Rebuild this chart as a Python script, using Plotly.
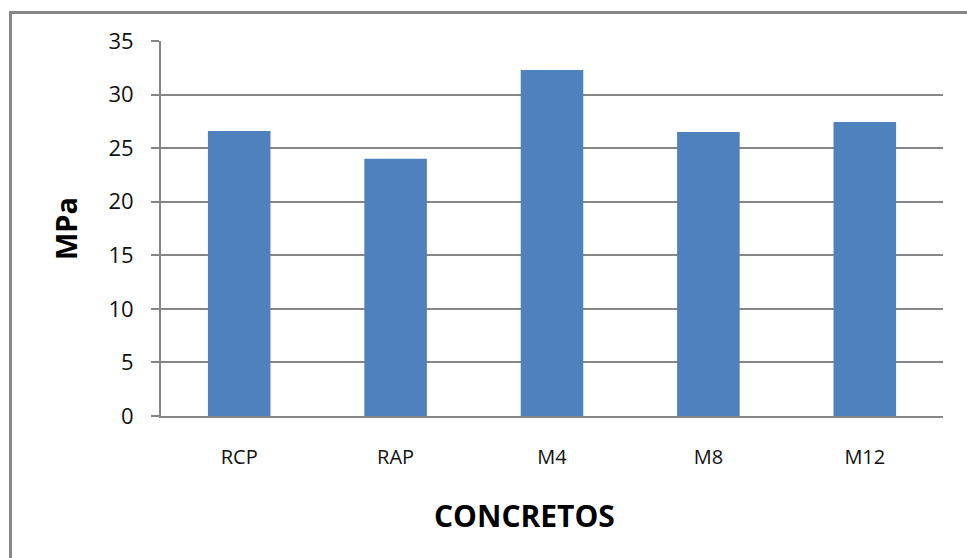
import plotly.graph_objects as go

# Compressive strength of the concrete mixes (MPa)
concretos = ["RCP", "RAP", "M4", "M8", "M12"]
resistencia_mpa = [26.6, 24.0, 32.3, 26.5, 27.45]
y_ticks = [0, 5, 10, 15, 20, 25, 30, 35]

BAR_COLOR = "#4F81BD"
GRID_COLOR = "#868686"
FONT = "Open Sans"

# plot-area geometry in pixels, used to place the border and the x title
PLOT_L, PLOT_R, PLOT_T, PLOT_B = 161, 943, 41, 416
PW, PH = PLOT_R - PLOT_L, PLOT_B - PLOT_T


def px_x(x):
    return (x - PLOT_L) / PW


def px_y(y):
    return (PLOT_B - y) / PH


fig = go.Figure(
    go.Bar(
        x=concretos,
        y=resistencia_mpa,
        marker=dict(color=BAR_COLOR, line=dict(width=0)),
        width=0.4,
    )
)

fig.update_layout(
    width=967,
    height=558,
    margin=dict(l=PLOT_L, r=967 - PLOT_R, t=PLOT_T, b=558 - PLOT_B),
    paper_bgcolor="white",
    plot_bgcolor="white",
    showlegend=False,
    font=dict(family=FONT, color="#000000"),
    xaxis=dict(
        showgrid=False,
        showline=True,
        linecolor=GRID_COLOR,
        linewidth=1.5,
        ticks="",
        tickfont=dict(size=20, color="#111111"),
        ticklabelstandoff=22,
    ),
    yaxis=dict(
        range=[0, 35],
        tickvals=y_ticks,
        showgrid=True,
        gridcolor=GRID_COLOR,
        gridwidth=1.5,
        zeroline=False,
        showline=True,
        linecolor=GRID_COLOR,
        linewidth=2,
        ticks="outside",
        ticklen=8,
        tickwidth=1.5,
        tickcolor=GRID_COLOR,
        tickfont=dict(size=22, color="#111111"),
        ticklabelstandoff=13,
        title=dict(
            text="<b>MPa</b>",
            font=dict(size=29, color="#000000"),
            standoff=22,
        ),
    ),
    annotations=[
        dict(
            text="<b>CONCRETOS</b>",
            xref="paper",
            yref="paper",
            x=px_x(524),
            y=px_y(515),
            xanchor="center",
            yanchor="middle",
            showarrow=False,
            font=dict(size=30, color="#000000", family=FONT),
        )
    ],
    shapes=[
        # chart-area border
        dict(
            type="rect",
            xref="paper",
            yref="paper",
            x0=px_x(10.5),
            x1=px_x(990),
            y0=px_y(590),
            y1=px_y(12.5),
            line=dict(color="#888888", width=3),
            fillcolor="rgba(0,0,0,0)",
            layer="below",
        )
    ],
)

fig.write_html("out.html")
